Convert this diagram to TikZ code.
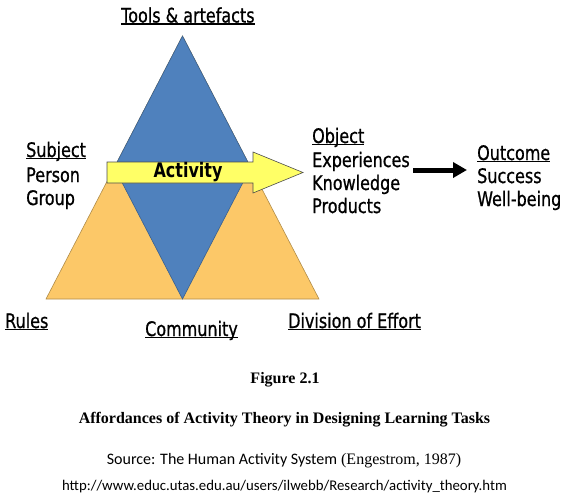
\documentclass[tikz,border=0pt]{standalone}
\usepackage{fontspec}
\setmainfont{Liberation Serif}
\newfontfamily\labfont[FakeStretch=0.8, UprightFeatures={FakeBold=0.8}]{DejaVu Sans}
\newfontfamily\calfont{Carlito}
\usetikzlibrary{arrows.meta}
\definecolor{triorange}{HTML}{FCC868}
\definecolor{triblue}{HTML}{4F81BD}
\definecolor{arrowyellow}{HTML}{FFFF66}
\newcommand\myul[1]{\setbox0\hbox{#1}\rlap{\rule[-2.2pt]{\wd0}{1.4pt}}\box0}
\tikzset{
  lab/.style={font=\labfont\fontsize{20}{23}\selectfont, inner sep=0pt, anchor=base west},
  captext/.style={inner sep=0pt, anchor=base},
  bigarrow/.style={line width=5pt, -{Triangle[length=14pt,width=15pt]}},
}
\begin{document}
\begin{tikzpicture}[x=1pt,y=-1pt]
\useasboundingbox (0,0) rectangle (566,501);
% triangles
\fill[triorange, draw=triorange!70!black, line width=0.6pt] (46,299) -- (319,299) -- (182.5,36) -- cycle;
\fill[triblue, draw=triblue!75!black, line width=0.6pt] (182.5,36) -- (250.75,167.5) -- (182.5,299) -- (114.25,167.5) -- cycle;
% activity arrow
\filldraw[fill=arrowyellow, draw=black!70, line width=0.6pt]
  (107,162) -- (253,162) -- (253,152) -- (303,172.5) -- (253,193) -- (253,183) -- (107,183) -- cycle;
\node[font=\labfont\bfseries\fontsize{20}{23}\selectfont, inner sep=0pt] (act) at (188,172.5) {Activity};
% labels
\node[lab] (tools) at (121,22.5) {\myul{Tools \& artefacts}};
\node[lab] (subj) at (26,157) {\myul{Subject}};
\node[lab] (person) at (26,182) {Person};
\node[lab] (group) at (26,205) {Group};
\node[lab] (obj) at (312,143) {\myul{Object}};
\node[lab] (exp) at (312,167) {Experiences};
\node[lab] (know) at (312,190) {Knowledge};
\node[lab] (prod) at (312,213) {Products};
\node[lab] (outc) at (477,160) {\myul{Outcome}};
\node[lab] (succ) at (477,183) {Success};
\node[lab] (well) at (477,206) {Well-being};
\node[lab] (rules) at (5,328) {\myul{Rules}};
\node[lab] (comm) at (145,336) {\myul{Community}};
\node[lab] (div) at (288,328) {\myul{Division of Effort}};
% outcome arrow
\coordinate (a1) at (413,170);
\coordinate (a2) at (467,170);
\draw[bigarrow] (a1) -- (a2);
% caption
\node[captext, font=\bfseries\fontsize{16}{19}\selectfont] (fig) at (285,383) {Figure 2.1};
\node[captext, font=\bfseries\fontsize{16}{19}\selectfont] (title) at (284.5,423) {Affordances of Activity Theory in Designing Learning Tasks};
\node[captext, font=\fontsize{16}{19}\selectfont] (src) at (284,464) {{\calfont Source: The Human Activity System} (Engestrom, 1987)};
\node[captext, font=\calfont\fontsize{14.8}{18}\selectfont] (url) at (284.5,490) {http://www.educ.utas.edu.au/users/ilwebb/Research/activity\_theory.htm};
\end{tikzpicture}
\end{document}
